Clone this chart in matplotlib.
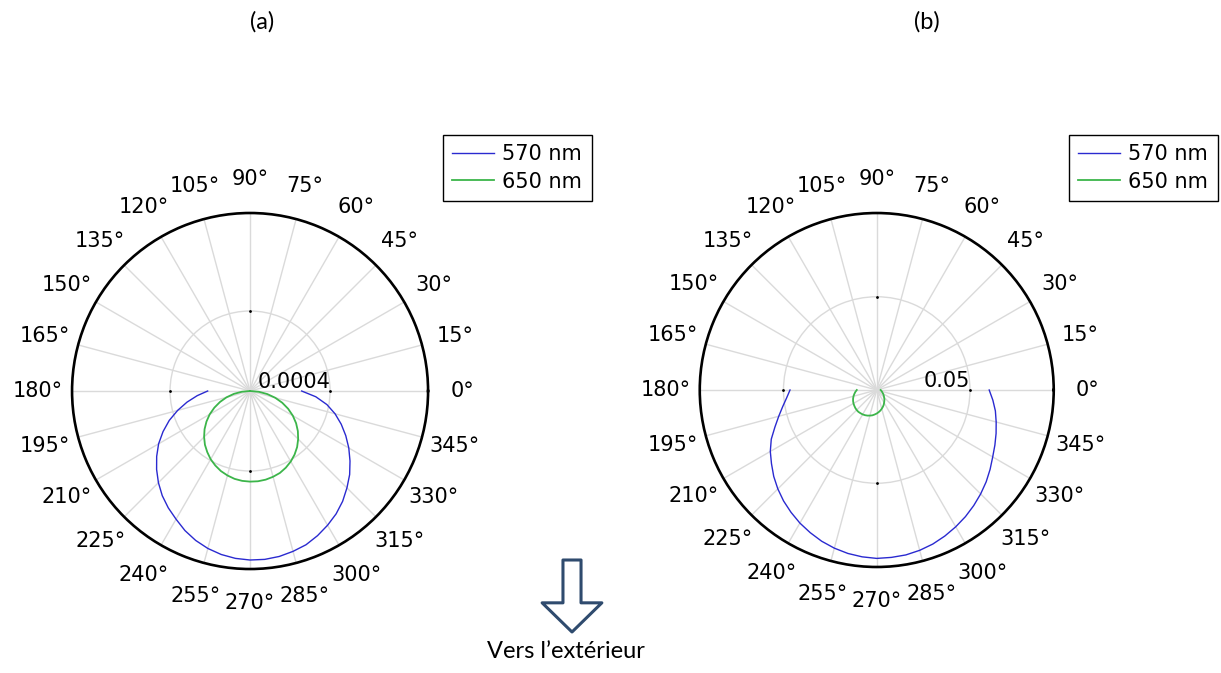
import numpy as np
import matplotlib
matplotlib.use("Agg")
import matplotlib.pyplot as plt
from matplotlib.patches import FancyArrowPatch

plt.rcParams['font.family'] = ['DejaVu Sans']

# angles (deg) for the lower half-plane, shared by every curve
angles = list(range(180, 361, 5))

# (a) radiated intensity
a_570 = [2.12e-4, 2.65e-4, 3.20e-4, 3.75e-4, 4.30e-4, 4.80e-4, 5.28e-4, 5.70e-4, 6.10e-4, 6.48e-4,
         6.83e-4, 7.13e-4, 7.40e-4, 7.70e-4, 7.95e-4, 8.15e-4, 8.30e-4, 8.40e-4, 8.45e-4, 8.45e-4,
         8.40e-4, 8.30e-4, 8.18e-4, 7.98e-4, 7.75e-4, 7.50e-4, 7.20e-4, 6.85e-4, 6.50e-4, 6.10e-4,
         5.70e-4, 5.28e-4, 4.85e-4, 4.40e-4, 3.90e-4, 3.30e-4, 2.58e-4]
a_650 = [0.0, 0.41e-4, 0.82e-4, 1.22e-4, 1.60e-4, 1.97e-4, 2.33e-4, 2.66e-4, 2.97e-4, 3.25e-4,
         3.51e-4, 3.73e-4, 3.94e-4, 4.11e-4, 4.26e-4, 4.37e-4, 4.46e-4, 4.51e-4, 4.53e-4, 4.53e-4,
         4.50e-4, 4.44e-4, 4.36e-4, 4.23e-4, 4.07e-4, 3.88e-4, 3.66e-4, 3.40e-4, 3.12e-4, 2.81e-4,
         2.47e-4, 2.10e-4, 1.71e-4, 1.30e-4, 0.87e-4, 0.44e-4, 0.0]

# (b)
b_570 = [0.0465, 0.0485, 0.0512, 0.0544, 0.0581, 0.0624, 0.0659, 0.0689, 0.0721, 0.0750,
         0.0777, 0.0801, 0.0824, 0.0844, 0.0863, 0.0878, 0.0890, 0.0898, 0.0903, 0.0901,
         0.0898, 0.0890, 0.0879, 0.0864, 0.0847, 0.0829, 0.0809, 0.0788, 0.0766, 0.0742,
         0.0718, 0.0699, 0.0681, 0.0663, 0.0646, 0.0625, 0.0603]
b_650 = [0.0107, 0.0115, 0.0122, 0.0129, 0.0135, 0.0140, 0.0144, 0.0147, 0.0150, 0.0152,
         0.0153, 0.0152, 0.0151, 0.0149, 0.0146, 0.0142, 0.0138, 0.0132, 0.0126, 0.0119,
         0.0112, 0.0104, 0.0096, 0.0088, 0.0079, 0.0071, 0.0064, 0.0056, 0.0050, 0.0044,
         0.0039, 0.0034, 0.0031, 0.0028, 0.0025, 0.0023, 0.0021]

series_names = ['570 nm', '650 nm']
colors = ['#2a2ad0', '#3cb54a']
widths = [1.0, 1.3]

panels = [
    dict(title='(a)', data=[a_570, a_650], rmax=0.00089, rtick=0.0004, rlabel='0.0004',
         rect=[0.0590, 0.1545, 0.2916, 0.529], legend=(443, 135), title_x=262),
    dict(title='(b)', data=[b_570, b_650], rmax=0.0949, rtick=0.05, rlabel='0.05',
         rect=[0.5731, 0.1575, 0.2899, 0.526], legend=(1069, 135), title_x=927),
]

W, H = 1221, 673
fig = plt.figure(figsize=(W / 100, H / 100), dpi=100)

theta_ticks = list(range(0, 360, 15))
theta_labels = ['%d°' % t for t in theta_ticks]
th = np.radians(angles)

for p in panels:
    ax = fig.add_axes(p['rect'], projection='polar')
    for vals, name, c, w in zip(p['data'], series_names, colors, widths):
        ax.plot(th, vals, color=c, lw=w, label=name)

    ax.set_ylim(0, p['rmax'])
    ax.set_rticks([p['rtick']])
    ax.set_yticklabels([])
    ax.set_thetagrids(theta_ticks, theta_labels, fontsize=15)
    ax.tick_params(axis='x', pad=14)
    ax.grid(True, color='#dadada', lw=1.0)
    ax.spines['polar'].set_linewidth(1.9)
    ax.spines['polar'].set_color('black')

    # little dots where the radial grid circle meets the axes
    ax.plot(np.radians([0, 90, 180, 270]), [p['rtick']] * 4, 'k.', ms=2, zorder=5)
    ax.annotate(p['rlabel'], xy=(0, p['rtick']), xytext=(0, 2), textcoords='offset points',
                ha='right', va='baseline', fontsize=15)

    lx, ly = p['legend']
    ax.legend(loc='upper left', bbox_to_anchor=(lx / W, 1 - ly / H),
              bbox_transform=fig.transFigure, borderaxespad=0, fontsize=15,
              frameon=True, fancybox=False, edgecolor='black', framealpha=1,
              handlelength=2.0, handletextpad=0.4, borderpad=0.45, labelspacing=0.35)
    ax.get_legend().get_frame().set_linewidth(1.0)

    fig.text(p['title_x'] / W, 1 - 22 / H, p['title'], ha='center', va='center',
             fontsize=17, family=['Lato', 'DejaVu Sans'])

# hollow arrow pointing outward
arrow = FancyArrowPatch((572 / W, 1 - 560 / H), (572 / W, 1 - 632 / H),
                        transform=fig.transFigure,
                        arrowstyle='simple,head_length=21,head_width=43,tail_width=13',
                        mutation_scale=1, shrinkA=0, shrinkB=0,
                        fc='white', ec='#2f4b6e', lw=2.2)
fig.patches.append(arrow)

fig.text(566 / W, 1 - 652 / H, 'Vers l’extérieur', ha='center', va='center',
         fontsize=17, family=['Lato', 'DejaVu Sans'])

fig.savefig('out.png', dpi=100)
